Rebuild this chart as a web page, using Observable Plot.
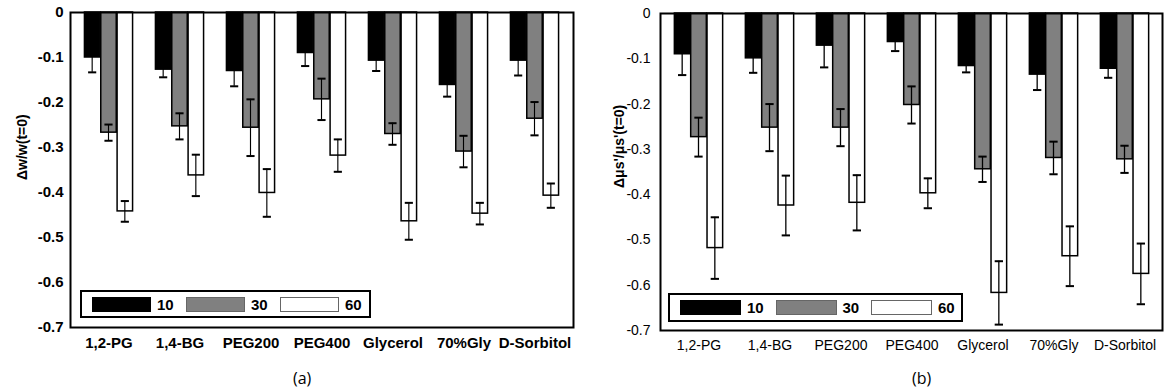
<!DOCTYPE html>
<html>
<head>
<meta charset="utf-8">
<script src="https://cdn.jsdelivr.net/npm/d3@7"></script>
<script src="https://cdn.jsdelivr.net/npm/@observablehq/plot@0.6"></script>
<style>
  html, body { margin: 0; padding: 0; background: #fff; }
  #wrap { position: relative; width: 1166px; height: 390px; overflow: hidden; font-family: "Liberation Sans", Arial, sans-serif; }
  .panel { position: absolute; top: 0; }
  .legend { position: absolute; background: #fff; border: 2px solid #000; box-sizing: border-box; }
  .sw { position: absolute; box-sizing: border-box; }
  .lt { position: absolute; font-weight: bold; font-size: 15px; color: #000; line-height: 15px; }
  .cap { position: absolute; font-family: "Open Sans", sans-serif; font-size: 16px; color: #000; }
</style>
</head>
<body>
<div id="wrap"></div>
<script>
const categories = ["1,2-PG", "1,4-BG", "PEG200", "PEG400", "Glycerol", "70%Gly", "D-Sorbitol"];
const seriesNames = ["10", "30", "60"];
const seriesFills = ["#000000", "#808080", "#ffffff"];
const yTicks = [0, -0.1, -0.2, -0.3, -0.4, -0.5, -0.6, -0.7];

// Panel (a): Δw/w(t=0)
const a10 = [-0.100, -0.127, -0.130, -0.090, -0.107, -0.161, -0.107];
const a10err = [0.033, 0.017, 0.034, 0.029, 0.023, 0.026, 0.033];
const a30 = [-0.267, -0.253, -0.256, -0.193, -0.270, -0.309, -0.236];
const a30err = [0.018, 0.029, 0.063, 0.046, 0.024, 0.035, 0.037];
const a60 = [-0.442, -0.362, -0.401, -0.318, -0.464, -0.447, -0.407];
const a60err = [0.023, 0.046, 0.053, 0.036, 0.041, 0.024, 0.027];

// Panel (b): Δμs'/μs'(t=0)
const b10 = [-0.090, -0.099, -0.071, -0.063, -0.116, -0.135, -0.122];
const b10err = [0.046, 0.032, 0.048, 0.020, 0.014, 0.034, 0.020];
const b30 = [-0.273, -0.252, -0.252, -0.202, -0.344, -0.319, -0.322];
const b30err = [0.043, 0.052, 0.041, 0.041, 0.028, 0.036, 0.030];
const b60 = [-0.518, -0.424, -0.418, -0.397, -0.617, -0.536, -0.575];
const b60err = [0.068, 0.066, 0.061, 0.033, 0.070, 0.066, 0.067];

function rows(vals, errs) {
  return categories.map((c, i) => ({cat: c, v: vals[i], e: errs[i]}));
}

function panel(opts) {
  const {series, width, height, mL, mR, mT, mB, yLabel, labDx, labDy, labSize, tickFont, tickWeight, tickPad} = opts;
  const bw = (width - mL - mR) / categories.length;
  const G = 49, b = G / 3;
  const marks = [];
  series.forEach((data, i) => {
    const L = (bw - G) / 2 + i * b;
    const c = L + b / 2;
    marks.push(Plot.barY(data, {x: "cat", y1: 0, y2: "v", fill: seriesFills[i], stroke: "#000", strokeWidth: 1.5,
      insetLeft: L, insetRight: bw - L - b}));
    marks.push(Plot.barY(data, {x: "cat", y1: d => d.v - d.e, y2: d => d.v + d.e, fill: "#000",
      insetLeft: c - 1, insetRight: bw - c - 1}));
    marks.push(Plot.tickY(data, {x: "cat", y: d => d.v - d.e, stroke: "#000", strokeWidth: 2,
      insetLeft: c - 4.5, insetRight: bw - c - 4.5}));
    marks.push(Plot.tickY(data, {x: "cat", y: d => d.v + d.e, stroke: "#000", strokeWidth: 2,
      insetLeft: c - 4.5, insetRight: bw - c - 4.5}));
  });
  marks.push(Plot.frame({stroke: "#000", strokeWidth: 2}));
  marks.push(Plot.text([yLabel], {text: d => d, frameAnchor: "left", rotate: -90, dx: labDx, dy: labDy,
    fontSize: labSize, fontWeight: "bold", fill: "#000"}));
  return Plot.plot({
    width, height,
    marginLeft: mL, marginRight: mR, marginTop: mT, marginBottom: mB,
    style: {fontFamily: "Liberation Sans, Arial, sans-serif", fontSize: tickFont + "px", fontWeight: tickWeight, color: "#000", background: "transparent"},
    x: {domain: categories, padding: 0, tickSize: 0, tickPadding: 10, label: null},
    y: {domain: [-0.7, 0], ticks: yTicks, tickFormat: d => d === 0 ? "0" : d.toFixed(1), tickSize: 0, tickPadding: tickPad, label: null},
    marks
  });
}

const wrap = document.getElementById("wrap");

const pa = panel({
  series: [rows(a10, a10err), rows(a30, a30err), rows(a60, a60err)],
  width: 583, height: 360, mL: 70, mR: 10, mT: 12, mB: 33,
  yLabel: "Δw/w(t=0)", labDx: -48, labDy: 10, labSize: 14, tickFont: 15, tickWeight: "bold", tickPad: 7
});
const da = document.createElement("div"); da.className = "panel"; da.style.left = "0px"; da.appendChild(pa); wrap.appendChild(da);

const pb = panel({
  series: [rows(b10, b10err), rows(b30, b30err), rows(b60, b60err)],
  width: 583, height: 360, mL: 77, mR: 4, mT: 13, mB: 30,
  yLabel: "Δμs'/μs'(t=0)", labDx: -41, labDy: 16, labSize: 14, tickFont: 14, tickWeight: "normal", tickPad: 10
});
const db = document.createElement("div"); db.className = "panel"; db.style.left = "583px"; db.appendChild(pb); wrap.appendChild(db);

function legend(left, top, w, h, swW, step) {
  const box = document.createElement("div");
  box.className = "legend";
  Object.assign(box.style, {left: left + "px", top: top + "px", width: w + "px", height: h + "px"});
  seriesNames.forEach((name, i) => {
    const sw = document.createElement("div");
    sw.className = "sw";
    Object.assign(sw.style, {left: (10 + i * step) + "px", top: (h - 4 - 15) / 2 + "px", width: swW + "px", height: "15px",
      background: seriesFills[i], border: i === 0 ? "1px solid #000" : "1px solid #666"});
    box.appendChild(sw);
    const t = document.createElement("div");
    t.className = "lt";
    t.textContent = name;
    Object.assign(t.style, {left: (10 + i * step + swW + 6) + "px", top: (h - 4 - 15) / 2 + "px"});
    box.appendChild(t);
  });
  wrap.appendChild(box);
}
legend(80, 290, 291, 28, 59, 94);
legend(668, 293, 295, 29, 61, 95.5);

function caption(txt, cx) {
  const c = document.createElement("div");
  c.className = "cap";
  c.textContent = txt;
  Object.assign(c.style, {left: (cx - 12) + "px", top: "367px"});
  wrap.appendChild(c);
}
caption("(a)", 305);
caption("(b)", 924);
</script>
</body>
</html>
